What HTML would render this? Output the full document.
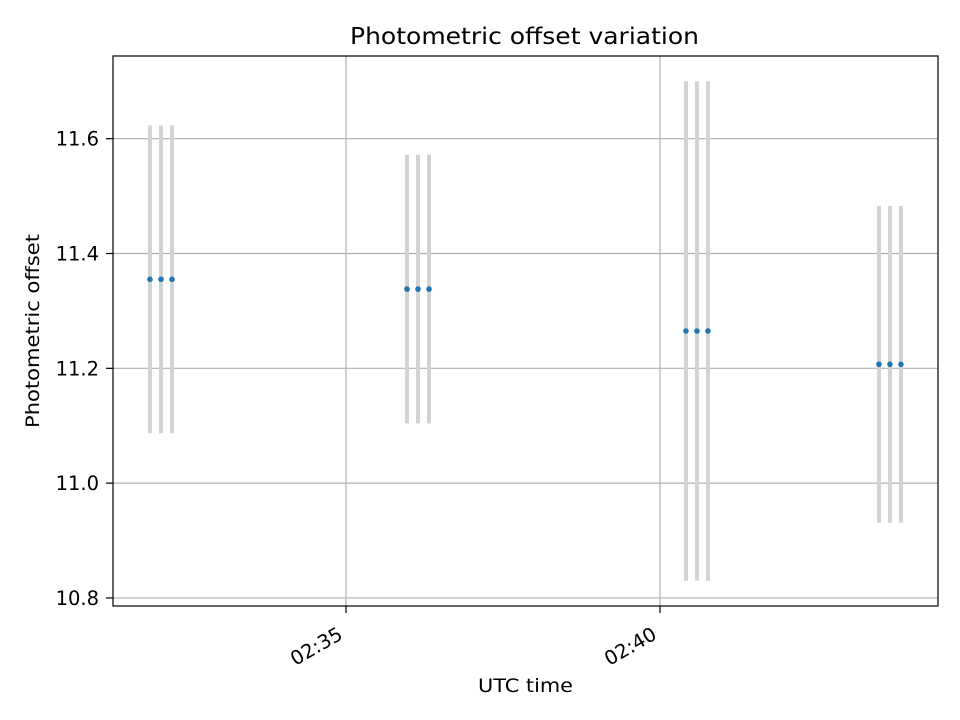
<!DOCTYPE html>
<html><head><meta charset="utf-8"><style>
body{margin:0;background:#fff}
svg{display:block;font-family:"DejaVu Sans","Liberation Sans",sans-serif}
</style></head><body>
<svg id="chart" width="960" height="720" viewBox="0 0 960 720" xmlns="http://www.w3.org/2000/svg">
<rect width="960" height="720" fill="#fff"/>
<text x="524.5" y="44" font-size="23" text-anchor="middle" textLength="349" lengthAdjust="spacingAndGlyphs">Photometric offset variation</text>
<g id="grid"></g>
<g id="bars"></g>
<g id="points"></g>
<g id="axes"></g>
<rect x="113" y="56" width="825" height="550" fill="none" stroke="#000" stroke-width="1.2"/>
<text x="525.5" y="692" font-size="19" text-anchor="middle" textLength="95" lengthAdjust="spacingAndGlyphs">UTC time</text>
<text transform="translate(39,331) rotate(-90)" font-size="19" text-anchor="middle" textLength="194" lengthAdjust="spacingAndGlyphs">Photometric offset</text>
</svg>
<script>
// times in seconds after 02:30:00
const times = [112.7, 123.3, 133.8, 358.3, 368.8, 379.3, 624.8, 635.3, 645.8, 809.2, 819.7, 830.2];
const values = [11.355, 11.355, 11.355, 11.338, 11.338, 11.338, 11.265, 11.265, 11.265, 11.207, 11.207, 11.207];
const errors = [0.268, 0.268, 0.268, 0.234, 0.234, 0.234, 0.435, 0.435, 0.435, 0.276, 0.276, 0.276];
const yTicks = [10.8, 11.0, 11.2, 11.4, 11.6];
const xTicks = [300, 600];
const xTickLabels = ["02:35", "02:40"];

const X0 = 113, X1 = 938, Y0 = 56, Y1 = 606;
const xMin = 77.4, xMax = 865.6, yMin = 10.786, yMax = 11.744;
const xs = t => X0 + (t - xMin) / (xMax - xMin) * (X1 - X0);
const ys = v => Y1 - (v - yMin) / (yMax - yMin) * (Y1 - Y0);
const NS = "http://www.w3.org/2000/svg";
function mk(tag, attrs, parent) {
  const e = document.createElementNS(NS, tag);
  for (const k in attrs) e.setAttribute(k, attrs[k]);
  parent.appendChild(e);
  return e;
}
const grid = document.getElementById('grid'), bars = document.getElementById('bars'),
      pts = document.getElementById('points'), axes = document.getElementById('axes');

yTicks.forEach(v => {
  const y = ys(v);
  const g = mk('line', {x1: X0, x2: X1, y1: y, y2: y, stroke: '#b0b0b0', 'stroke-width': 1.2}, grid);
  
  
  mk('line', {x1: X0 - 7, x2: X0, y1: y, y2: y, stroke: '#000', 'stroke-width': 1.2}, axes);
  const t = mk('text', {x: 99, y: y + 7, 'font-size': 19.5, 'text-anchor': 'end'}, axes);
  t.textContent = v.toFixed(1);
  
  
});
xTicks.forEach((s, i) => {
  const x = xs(s);
  const g = mk('line', {x1: x, x2: x, y1: Y0, y2: Y1, stroke: '#b0b0b0', 'stroke-width': 1.2}, grid);
  
  
  mk('line', {x1: x, x2: x, y1: Y1, y2: Y1 + 7, stroke: '#000', 'stroke-width': 1.2}, axes);
  const t = mk('text', {x: 0, y: 0, 'font-size': 19.5, 'text-anchor': 'end', transform: `translate(${x - 2},${Y1 + 32}) rotate(-30)`}, axes);
  t.textContent = xTickLabels[i];
  
  
});
times.forEach((s, i) => {
  const x = xs(s);
  const b = mk('line', {x1: x, x2: x, y1: ys(values[i] + errors[i]), y2: ys(values[i] - errors[i]), stroke: '#d3d3d3', 'stroke-width': 4}, bars);
  
  
  const p = mk('circle', {cx: x, cy: ys(values[i]), r: 2.8, fill: '#1f77b4'}, pts);
  
  
});
</script>
</body></html>
